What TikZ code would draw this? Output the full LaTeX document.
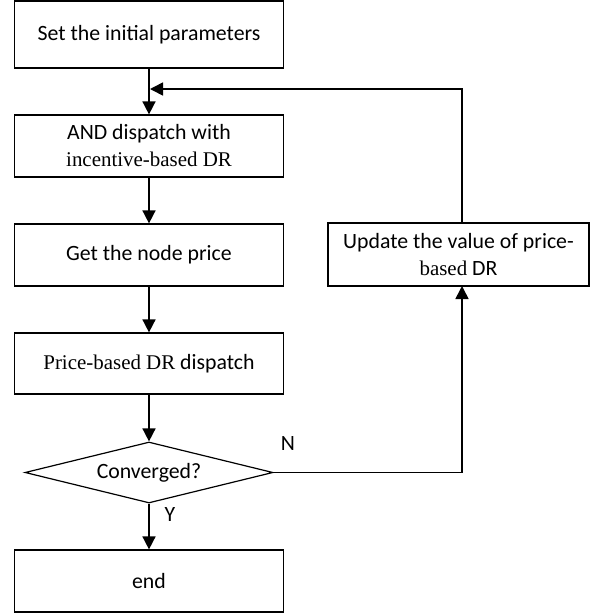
\documentclass[tikz,border=0pt]{standalone}
\usepackage{fontspec}
\setmainfont{Carlito}
\newfontfamily\tms[Scale=0.96]{Liberation Serif}
\usetikzlibrary{shapes.geometric,arrows.meta}
\begin{document}
\begin{tikzpicture}[x=1pt,y=-1pt,
  every node/.style={font=\fontsize{21.8}{27}\selectfont},
  box/.style={draw,line width=1.2pt,minimum width=269pt,inner sep=0pt,align=center},
  dec/.style={draw,line width=1.2pt,diamond,aspect=4,minimum width=248pt,minimum height=61pt,inner sep=0pt},
  flow/.style={line width=1.6pt,-{Triangle[length=13pt,width=13pt]}},
  plain/.style={line width=1.6pt}]
\useasboundingbox (0,0) rectangle (590,613);
\node[box,minimum height=67pt] (b1) at (149,34.5) {Set the initial parameters};
\node[box,minimum height=62pt] (b2) at (149,146) {AND dispatch with\\{\tms incentive-based DR}};
\node[box,minimum height=62pt] (b3) at (149,255) {Get the node price};
\node[box,minimum height=61pt] (b4) at (149,363.5) {{\tms Price-based DR} dispatch};
\node[dec] (d) at (149,472.5) {Converged?};
\node[box,minimum height=62pt] (e) at (149,581) {end};
\node[box,minimum width=261pt,minimum height=63pt] (u) at (458.5,254.5) {Update the value of price-\\{\tms based} DR};
\coordinate (m) at (150,89);
\coordinate (tr) at (462,89);
\coordinate (ub) at (462,286);
\coordinate (ut) at (462,223);
\coordinate (dr) at (462,472.5);
\draw[flow] (b1) -- (b2);
\draw[flow] (b2) -- (b3);
\draw[flow] (b3) -- (b4);
\draw[flow] (b4) -- (d);
\draw[flow] (d) -- (e);
\draw[flow] (ut) -- (tr) -- (m);
\draw[flow] (d.east) -- (dr) -- (ub);
\node (n) at (288,444) {N};
\node (y) at (170,514) {Y};
\end{tikzpicture}
\end{document}
